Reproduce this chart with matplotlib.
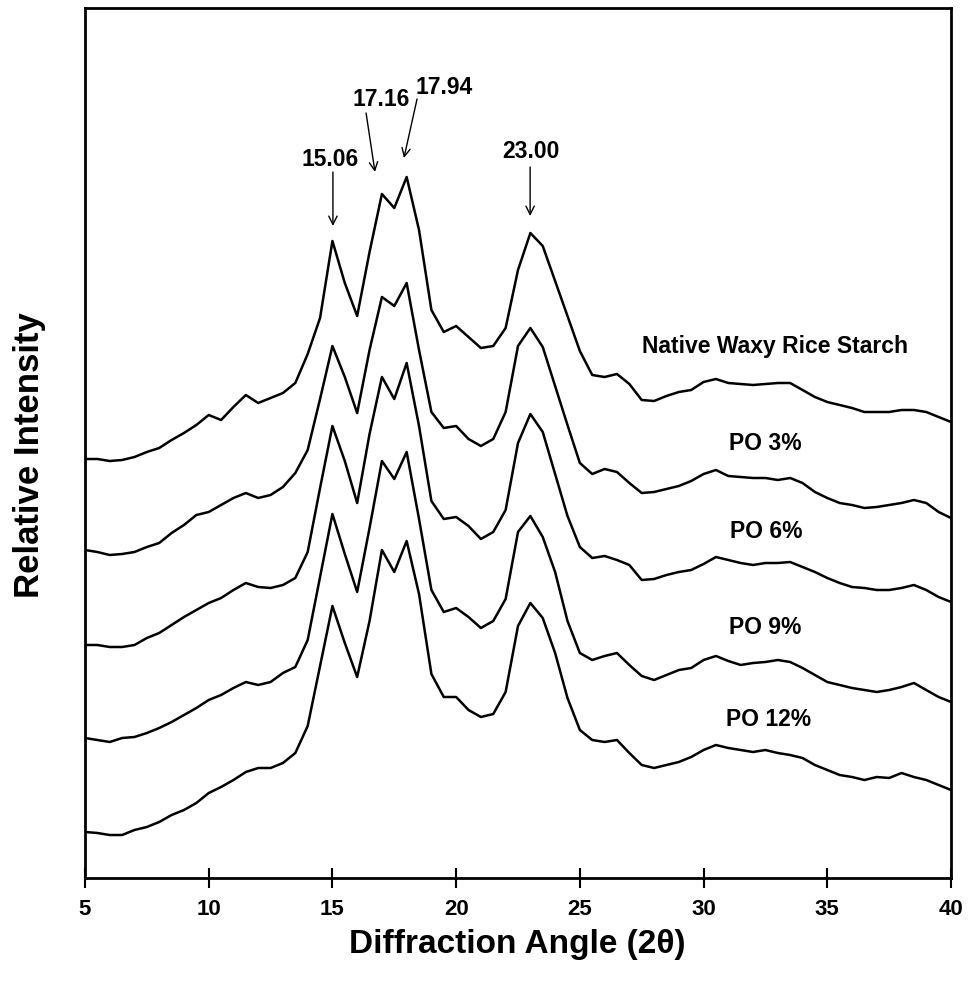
import matplotlib.pyplot as plt
import numpy as np

# diffraction angle grid (2theta, degrees) and traces
# (intensity in arbitrary units = height above the x axis)
angle = np.arange(5.0, 40.01, 0.5)

native_py = [459, 459, 461, 460, 457, 452, 448, 440, 433, 425, 415, 420, 407, 395, 403, 398,
             393, 383, 354, 318, 241, 283, 316, 252, 194, 208, 177, 230, 310, 332, 326, 337,
             348, 346, 328, 270, 233, 246, 281, 316, 351, 375, 377, 374, 384, 400, 401, 396,
             392, 390, 382, 379, 383, 384, 385, 384, 383, 383, 390, 397, 402, 405, 408, 412,
             412, 412, 410, 410, 412, 417, 422]
po3_py = [550, 552, 555, 554, 552, 547, 543, 533, 525, 515, 512, 505, 498, 493, 498, 495,
          487, 473, 450, 399, 346, 377, 413, 350, 297, 306, 283, 350, 412, 428, 426, 439,
          446, 439, 412, 346, 328, 347, 386, 425, 463, 474, 469, 472, 483, 493, 492, 489,
          486, 481, 474, 470, 476, 477, 478, 478, 480, 478, 483, 492, 498, 503, 505, 508,
          507, 505, 503, 500, 503, 512, 518]
po6_py = [645, 645, 647, 647, 645, 638, 633, 625, 617, 610, 603, 598, 590, 583, 587, 588,
          585, 578, 552, 488, 426, 461, 503, 434, 377, 399, 363, 426, 501, 519, 517, 526,
          539, 532, 510, 443, 414, 432, 474, 516, 547, 558, 556, 560, 565, 580, 579, 575,
          572, 570, 564, 557, 560, 563, 565, 563, 563, 562, 567, 572, 578, 583, 587, 588,
          590, 590, 588, 585, 590, 597, 602]
po9_py = [738, 740, 742, 738, 737, 733, 728, 722, 715, 708, 700, 695, 688, 682, 685, 682,
          673, 667, 640, 577, 514, 554, 592, 528, 461, 479, 452, 519, 590, 612, 608, 617,
          628, 621, 599, 532, 516, 537, 572, 621, 653, 660, 656, 653, 665, 676, 680, 675,
          670, 668, 660, 656, 661, 665, 663, 662, 660, 662, 668, 675, 682, 685, 688, 690,
          692, 690, 687, 683, 690, 697, 702]
po12_py = [832, 833, 835, 835, 830, 827, 822, 815, 810, 803, 793, 787, 780, 772, 768, 768,
           763, 753, 726, 666, 606, 643, 677, 621, 550, 572, 541, 594, 674, 697, 697, 710,
           717, 714, 692, 626, 603, 618, 653, 698, 730, 740, 742, 740, 753, 765, 768, 765,
           762, 757, 750, 745, 748, 750, 752, 750, 753, 755, 758, 765, 770, 775, 777, 780,
           777, 778, 773, 777, 780, 785, 790]

series_names = ["Native Waxy Rice Starch", "PO 3%", "PO 6%", "PO 9%", "PO 12%"]
series_py = [native_py, po3_py, po6_py, po9_py, po12_py]

peak_labels = ["15.06", "17.16", "17.94", "23.00"]
peak_angles = [15.06, 17.16, 17.94, 23.00]

AXIS_PX = 878


def to_intensity(py):
    return AXIS_PX - np.asarray(py, dtype=float)


fig = plt.figure(figsize=(9.68, 9.9), dpi=100)
ax = fig.add_axes([85 / 968, 112 / 990, 866 / 968, 870 / 990])

for name, py in zip(series_names, series_py):
    ax.plot(angle, to_intensity(py), color="black", lw=1.8)

ax.set_xlim(5, 40)
ax.set_ylim(0, 870)
ax.set_xticks(np.arange(5, 41, 5))
ax.set_yticks([])
ax.tick_params(axis="x", direction="inout", length=14, width=1.5, pad=8,
               labelsize=16)
for lab in ax.get_xticklabels():
    lab.set_fontweight("bold")
    lab.set_fontfamily("Liberation Sans")
for sp in ax.spines.values():
    sp.set_linewidth(2)

label_font = dict(fontsize=16.5, fontweight="bold", family="Liberation Sans",
                  ha="center", va="center")

# series labels (angle, intensity positions)
label_pos = [(32.89, 531), (32.49, 435), (32.53, 346), (32.49, 251), (32.61, 158)]
for name, (lx, ly) in zip(series_names, label_pos):
    ax.text(lx, ly, name, **label_font)

# peak arrows: text position, arrow tail, arrow tip
text_pos = [(14.90, 718), (16.96, 778), (19.51, 790), (23.03, 726)]
tails = [(15.02, 706), (16.36, 765), (18.42, 779), (22.99, 711)]
tips = [(15.02, 652), (16.72, 706), (17.89, 720), (22.99, 662)]
for lab, tp, tl, tip in zip(peak_labels, text_pos, tails, tips):
    ax.text(tp[0], tp[1], lab, **label_font)
    ax.annotate("", xy=tip, xytext=tl,
                arrowprops=dict(arrowstyle="->,head_length=0.6,head_width=0.3",
                                lw=1.0, color="black", shrinkA=0, shrinkB=0))

fig.text(517 / 968, 1 - 945 / 990, "Diffraction Angle (2θ)", fontsize=24,
         fontweight="bold", family="Liberation Sans", ha="center", va="center")
fig.text(30 / 968, 1 - 455 / 990, "Relative Intensity", fontsize=25,
         fontweight="bold", family="Liberation Sans", ha="center", va="center",
         rotation=90)

fig.savefig("out.png", dpi=100)
